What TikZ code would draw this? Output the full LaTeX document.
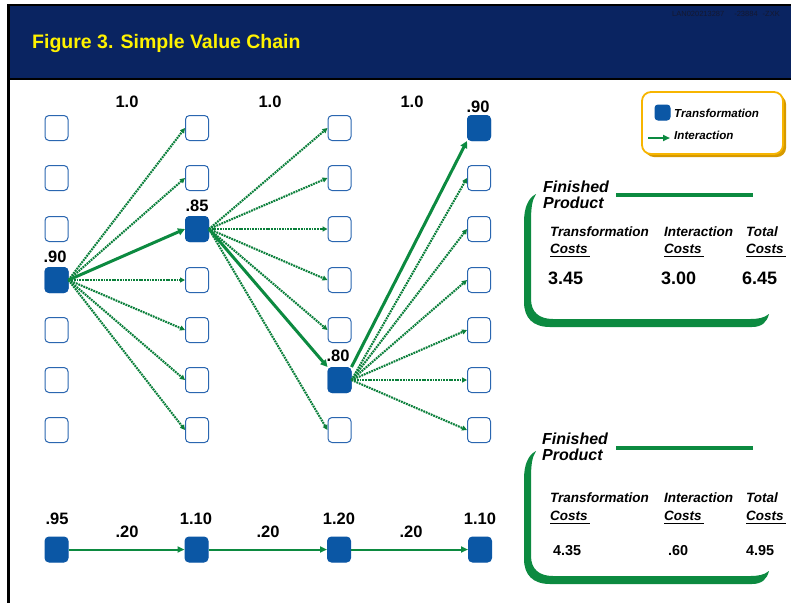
\documentclass[tikz,border=0pt]{standalone}
\usepackage{fontspec}
\setmainfont{Liberation Sans}
\usetikzlibrary{arrows.meta}
\definecolor{navy}{HTML}{0A2461}
\definecolor{boxblue}{HTML}{0B57A5}
\definecolor{edgeblue}{HTML}{2A66B0}
\definecolor{lgreen}{HTML}{0C8A40}
\definecolor{dgreen}{HTML}{0A7F3A}
\definecolor{gold}{HTML}{F7B500}
\definecolor{goldshadow}{HTML}{D69A00}
\definecolor{tinygray}{HTML}{141830}
\newcommand\greenbracket[1]{%
  \fill[lgreen, shift={(0,#1)}] (536,194) .. controls (528,198) and (524,208) .. (524,222)
    -- (524,302) .. controls (524,318) and (533,327) .. (550,327)
    -- (752,327) .. controls (762,327) and (767,322) .. (769,314)
    .. controls (764,318) and (758,319) .. (750,319)
    -- (553,319) .. controls (539,319) and (531,312) .. (531,299)
    -- (531,222) .. controls (531,208) and (532,200) .. cycle;}
\begin{document}
\begin{tikzpicture}[x=1pt,y=-1pt,
  emptybox/.style={draw=edgeblue, fill=white, line width=1pt, rounded corners=4pt,
    minimum width=23pt, minimum height=25pt, inner sep=0pt},
  fullbox/.style={draw=boxblue, fill=boxblue, line width=1pt, rounded corners=4pt,
    minimum width=23pt, minimum height=25pt, inner sep=0pt},
  dotlink/.style={draw=dgreen, line width=2.1pt, dash pattern=on 1.8pt off 0.9pt,
    -{Triangle[length=5pt,width=5pt]}},
  thicklink/.style={draw=lgreen, line width=3pt, -{Triangle[length=7pt,width=7pt]}},
  chainlink/.style={draw=lgreen, line width=2pt, -{Triangle[length=7pt,width=6pt]}},
  lab/.style={font=\fontsize{16.5}{18}\selectfont\bfseries, inner sep=0pt},
  fin/.style={font=\fontsize{16}{17}\selectfont\bfseries\itshape, inner sep=0pt, anchor=west, align=left},
  head/.style={font=\fontsize{13.5}{15}\selectfont\bfseries\itshape, inner sep=0pt, anchor=west},
  bigval/.style={font=\fontsize{18}{20}\selectfont\bfseries, inner sep=0pt, anchor=west},
  smallval/.style={font=\fontsize{14.4}{16}\selectfont\bfseries, inner sep=0pt, anchor=west},
  legtext/.style={font=\fontsize{11.6}{13}\selectfont\bfseries\itshape, inner sep=0pt, anchor=west}]
\useasboundingbox (0,0) rectangle (791,603);
% header
\fill[navy] (8,4) rectangle (791,79);
\draw[black, line width=2.5pt] (791,5) -- (8.5,5) -- (8.5,603);
\draw[black, line width=2pt] (8,79) -- (791,79);
\node[anchor=west, inner sep=0pt, text=yellow, font=\fontsize{19.5}{21}\selectfont\bfseries] (title) at (32,43) {Figure 3. Simple Value Chain};
\node[anchor=west, inner sep=0pt, text=tinygray, font=\fontsize{7.5}{8}\selectfont] (code) at (672,14) {LAN020213287\hspace{10pt}-23884\hspace{5pt}-ZXK};
% grid
\foreach \c/\x in {1/56.5,2/197,3/339.5,4/479}
  \foreach \r/\y in {1/128,2/178,3/229,4/280,5/330,6/380,7/430}
    \node[emptybox] (c\c r\r) at (\x,\y) {};
\node[fullbox] (f1) at (c1r4) {};
\node[fullbox] (f2) at (c2r3) {};
\node[fullbox] (f3) at (c3r6) {};
\node[fullbox] (f4) at (c4r1) {};
% connectors
\foreach \r in {1,2,4,5,6,7} \draw[dotlink] (f1.east) -- (c2r\r.west);
\draw[thicklink] (f1.east) -- (f2.west);
\foreach \r in {1,2,3,4,5,7} \draw[dotlink] (f2.east) -- (c3r\r.west);
\draw[thicklink] (f2.east) -- (f3.north west);
\foreach \r in {2,3,4,5,6,7} \draw[dotlink] (f3.east) -- (c4r\r.west);
\draw[thicklink] (f3.north east) -- (f4.south west);
% labels
\node[lab] (l1) at (127,102) {1.0};
\node[lab] (l2) at (270,102) {1.0};
\node[lab] (l3) at (412,102) {1.0};
\node[lab] (v4) at (478,107) {.90};
\node[lab] (v1) at (55,257) {.90};
\node[lab] (v2) at (197,206) {.85};
\node[lab] (v3) at (338,356) {.80};
% bottom chain
\node[fullbox] (b1) at (56.5,549.5) {};
\node[fullbox] (b2) at (196.5,549.5) {};
\node[fullbox] (b3) at (339,549.5) {};
\node[fullbox] (b4) at (480,549.5) {};
\draw[chainlink] (b1) -- (b2);
\draw[chainlink] (b2) -- (b3);
\draw[chainlink] (b3) -- (b4);
\node[lab] (bv1) at (57,519) {.95};
\node[lab] (bv2) at (196,519) {1.10};
\node[lab] (bv3) at (339,519) {1.20};
\node[lab] (bv4) at (480,519) {1.10};
\node[lab] (i1) at (127,532) {.20};
\node[lab] (i2) at (268,532) {.20};
\node[lab] (i3) at (411,532) {.20};
% legend
\fill[goldshadow, rounded corners=9pt] (645,95) rectangle (786,157);
\draw[gold, fill=white, line width=1.8pt, rounded corners=9pt] (642,92) rectangle (783,154);
\node[fullbox, minimum width=15pt, minimum height=15pt, rounded corners=3pt] (legsq) at (662.5,112.5) {};
\node[legtext] (legt) at (674,113) {Transformation};
\coordinate (lega) at (648,138);
\coordinate (legb) at (670,138);
\node[legtext] (legi) at (674,135) {Interaction};
\draw[chainlink] (lega) -- (legb);
% finished product box 1
\greenbracket{0}
\draw[lgreen, line width=4pt] (616,195) -- (753,195);
\node[fin] (fp1) at (543,195) {Finished\\[-1pt]Product};
\node[head] (t1) at (550,232) {Transformation};
\node[head] (t1c) at (550,249) {Costs};
\node[head] (n1) at (664,232) {Interaction};
\node[head] (n1c) at (664,249) {Costs};
\node[head] (s1) at (746,232) {Total};
\node[head] (s1c) at (746,249) {Costs};
\draw[black, line width=1.5pt] (550,256.5) -- (590,256.5);
\draw[black, line width=1.5pt] (664,256.5) -- (704,256.5);
\draw[black, line width=1.5pt] (746,256.5) -- (786,256.5);
\node[bigval] (x1) at (548,278) {3.45};
\node[bigval] (y1) at (661,278) {3.00};
\node[bigval] (z1) at (742,278) {6.45};
% finished product box 2
\greenbracket{257}
\draw[lgreen, line width=4pt] (616,448) -- (753,448);
\node[fin] (fp2) at (542,447) {Finished\\[-1pt]Product};
\node[head] (t2) at (550,498) {Transformation};
\node[head] (t2c) at (550,516) {Costs};
\node[head] (n2) at (664,498) {Interaction};
\node[head] (n2c) at (664,516) {Costs};
\node[head] (s2) at (746,498) {Total};
\node[head] (s2c) at (746,516) {Costs};
\draw[black, line width=1.5pt] (550,523.5) -- (590,523.5);
\draw[black, line width=1.5pt] (664,523.5) -- (704,523.5);
\draw[black, line width=1.5pt] (746,523.5) -- (786,523.5);
\node[smallval] (x2) at (553,551) {4.35};
\node[smallval] (y2) at (668,551) {.60};
\node[smallval] (z2) at (746,551) {4.95};
\end{tikzpicture}
\end{document}
